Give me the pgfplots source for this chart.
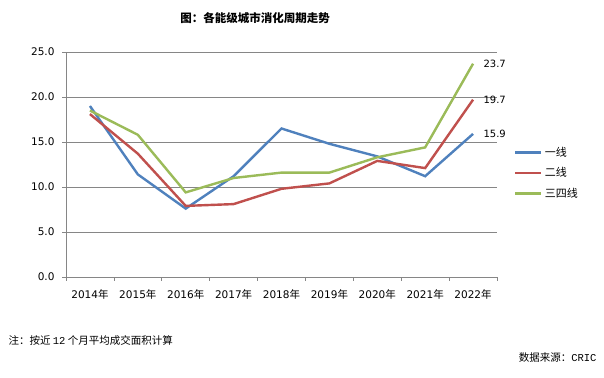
\documentclass[border=0pt]{standalone}
\usepackage{pgfplots}
\pgfplotsset{compat=1.18}
\usepackage{fontspec}
\setmainfont{DejaVu Sans}
\newfontfamily\cjk{Noto Sans CJK SC}
\newfontfamily\mono{Liberation Mono}
\definecolor{cA}{HTML}{4F81BD}
\definecolor{cB}{HTML}{C0504D}
\definecolor{cC}{HTML}{9BBB59}
\definecolor{gridc}{HTML}{868686}
\begin{document}
\begin{tikzpicture}
\useasboundingbox[fill=white] (0pt,0pt) rectangle (604pt,377pt);
\node[font=\cjk\bfseries\fontsize{11.5}{13}\selectfont] at (255pt,359pt) {图：各能级城市消化周期走势};
\begin{axis}[
  at={(66pt,100pt)}, anchor=south west,
  scale only axis, width=431pt, height=225pt,
  xmin=-0.5, xmax=8.5, ymin=0, ymax=25,
  xtick={-0.5,0.5,...,8.5},
  x tick label as interval,
  xticklabels={2014{\cjk 年},2015{\cjk 年},2016{\cjk 年},2017{\cjk 年},2018{\cjk 年},2019{\cjk 年},2020{\cjk 年},2021{\cjk 年},2022{\cjk 年}},
  ytick={0,5,...,25},
  yticklabel style={xshift=-4pt, /pgf/number format/.cd, fixed, fixed zerofill, precision=1},
  /pgf/number format/assume math mode=true,
  tick label style={font=\fontsize{10.5}{12}\selectfont, text=black},
  xticklabel style={yshift=-5pt},
  axis x line*=bottom, axis y line*=left,
  axis line style={gridc, -},
  tick style={gridc, line width=0.6pt},
  tick align=outside, major tick length=4pt,
  ymajorgrids, grid style={gridc, line width=0.6pt},
  legend style={at={(1.032,0.462)}, anchor=west, draw=none, fill=none,
    font=\cjk\fontsize{11}{12}\selectfont, row sep=6pt},
  legend cell align=left,
  legend image code/.code={\draw[#1, line width=2.8pt] (0pt,0pt) -- (26pt,0pt);},
  clip=false,
]
\addplot[cA, line width=2.4pt] coordinates {(0,19.0) (1,11.4) (2,7.6) (3,11.2) (4,16.5) (5,14.8) (6,13.4) (7,11.2) (8,15.9)};
\addlegendentry{一线}
\addplot[cB, line width=2.4pt] coordinates {(0,18.1) (1,13.7) (2,7.9) (3,8.1) (4,9.8) (5,10.4) (6,12.9) (7,12.1) (8,19.7)};
\addlegendentry{二线}
\addplot[cC, line width=2.4pt] coordinates {(0,18.5) (1,15.8) (2,9.4) (3,11.0) (4,11.6) (5,11.6) (6,13.3) (7,14.4) (8,23.7)};
\addlegendentry{三四线}
\node[anchor=west, font=\fontsize{10}{11}\selectfont] at (axis cs:8,23.7) [xshift=7pt] {23.7};
\node[anchor=west, font=\fontsize{10}{11}\selectfont] at (axis cs:8,19.7) [xshift=7pt] {19.7};
\node[anchor=west, font=\fontsize{10}{11}\selectfont] at (axis cs:8,15.9) [xshift=7pt] {15.9};
\end{axis}
\node[anchor=west, font=\cjk\fontsize{10.5}{12}\selectfont] at (5pt,37pt) {注：按近 {\mono 12} 个月平均成交面积计算};
\node[anchor=east, font=\cjk\fontsize{10.5}{12}\selectfont] at (600pt,19pt) {数据来源：{\mono CRIC}};
\end{tikzpicture}
\end{document}
